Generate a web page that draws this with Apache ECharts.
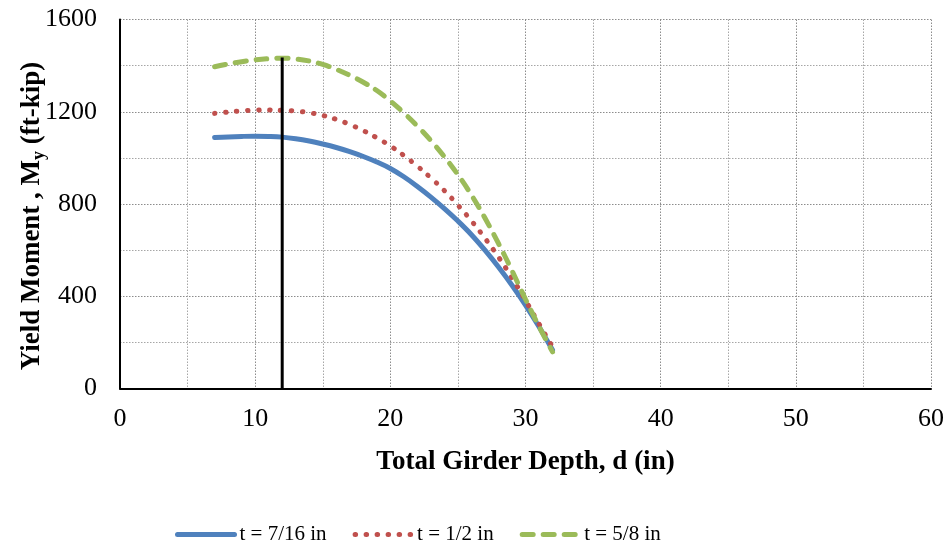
<!DOCTYPE html>
<html><head><meta charset="utf-8">
<script src="https://cdn.jsdelivr.net/npm/echarts@6/dist/echarts.min.js"></script>
<style>html,body{margin:0;padding:0;background:#fff}#c{width:948px;height:546px}</style>
</head><body><div id="c"></div>
<script>
const depth = [7,8,9,10,11,12,13,14,15,16,17,18,19,20,21,22,23,24,25,26,27,28,29,30,31,32];
const my716 = [1088,1091,1093,1094,1093,1090,1083,1073,1060,1045,1027,1006,982,954,918,876,830,780,726,667,600,527,448,362,268,167];
const my12  = [1193,1199,1204,1207,1208,1206,1203,1196,1184,1167,1145,1118,1087,1052,1010,964,913,858,795,727,652,570,480,382,280,180];
const my58  = [1395,1407,1417,1425,1430,1432,1429,1420,1405,1384,1358,1328,1292,1247,1195,1138,1075,1005,927,839,739,629,511,387,269,159];
const refX = [12,12];
const refY = [0,1435];
const names = ['t = 7/16 in','t = 1/2 in','t = 5/8 in'];
const xTicks = {min:0,max:60,interval:10};
const yTicks = {min:0,max:1600,interval:400};

const pair = (xs, ys) => xs.map((x,i)=>[x,ys[i]]);
const font = '"Liberation Serif","Times New Roman",serif';
const gridMajor = {type:[1.5,1.5], color:'#8c8c8c', width:1};
const gridMinor = {type:[1.5,1.5], color:'#a6a6a6', width:1};
const chart = echarts.init(document.getElementById('c'), null, {renderer:'canvas'});
chart.setOption({
  animation:false,
  grid:{left:120,right:17,top:19.5,bottom:157.5,containLabel:false,outerBoundsMode:'none'},
  legend:{top:519,left:170,itemWidth:57,itemHeight:10,itemGap:26,
    data:names,textStyle:{fontFamily:font,fontSize:21,color:'#000'},
    itemStyle:{opacity:0},lineStyle:{width:5}},
  xAxis:{type:'value',min:xTicks.min,max:xTicks.max,interval:xTicks.interval,
    name:'Total Girder Depth, d (in)',nameLocation:'middle',nameGap:60,nameMoveOverlap:false,
    nameTextStyle:{fontFamily:font,fontSize:27,fontWeight:'bold',color:'#000'},
    axisLine:{lineStyle:{color:'#000',width:2}},axisTick:{show:false},
    axisLabel:{fontFamily:font,fontSize:26,color:'#000',margin:18},
    splitLine:{show:true,lineStyle:gridMajor},
    minorTick:{show:false,splitNumber:2},minorSplitLine:{show:true,lineStyle:gridMinor}},
  yAxis:{type:'value',min:yTicks.min,max:yTicks.max,interval:yTicks.interval,
    name:'Yield Moment , M{s|y} (ft-kip)',nameLocation:'middle',nameGap:72,nameRotate:90,nameMoveOverlap:false,
    nameTextStyle:{fontFamily:font,fontSize:27,fontWeight:'bold',color:'#000',padding:[0,24,0,0],
      rich:{s:{fontFamily:font,fontSize:18,fontWeight:'bold',color:'#000',padding:[14,0,0,0]}}},
    axisLine:{show:true,lineStyle:{color:'#000',width:2}},axisTick:{show:false},
    axisLabel:{fontFamily:font,fontSize:26,color:'#000',margin:23,formatter:v=>String(v)},
    splitLine:{show:true,lineStyle:gridMajor},
    minorTick:{show:false,splitNumber:2},minorSplitLine:{show:true,lineStyle:gridMinor}},
  series:[
    {name:names[0],type:'line',data:pair(depth,my716),symbol:'none',smooth:0.4,
      itemStyle:{color:'#4f81bd'},lineStyle:{color:'#4f81bd',width:5,cap:'round'}},
    {name:names[1],type:'line',data:pair(depth,my12),symbol:'none',smooth:0.4,
      itemStyle:{color:'#c0504d'},lineStyle:{color:'#c0504d',width:5,type:[0.5,10.5],cap:'round'}},
    {name:names[2],type:'line',data:pair(depth,my58),symbol:'none',smooth:0.4,
      itemStyle:{color:'#9bbb59'},lineStyle:{color:'#9bbb59',width:5,type:[11,10],cap:'round'}},
    {name:'ref',type:'line',data:pair(refX,refY),symbol:'none',
      lineStyle:{color:'#000',width:3}}
  ]
});
</script></body></html>
